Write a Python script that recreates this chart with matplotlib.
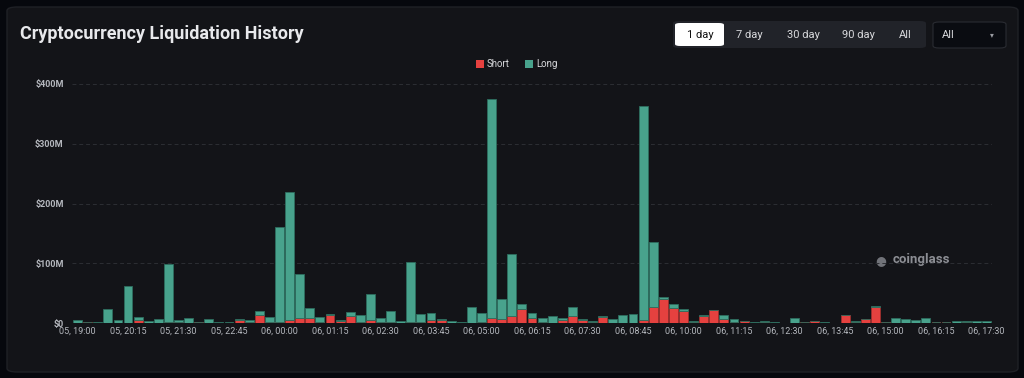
import matplotlib
matplotlib.use("Agg")
import matplotlib.pyplot as plt
from matplotlib.patches import FancyBboxPatch, Rectangle

# Liquidations per 15 minutes, in $M
short_vals = [0, 1, 0, 0, 0, 0, 4.5, 0, 0, 1.5, 1, 0, 1.5, 0, 0, 0, 5, 1, 13, 1.5,
              1.5, 5, 8, 8, 2, 13, 3, 12, 1, 4.5, 1, 1, 0.5, 1.5, 1, 5.6, 4.5, 0, 0.5, 0.5,
              2, 8.4, 6, 12, 23, 8.4, 2, 0, 4.5, 11, 5, 2, 10, 0, 0, 0, 5, 26, 40, 25,
              20, 2, 11, 21, 6.7, 2, 3.4, 0, 1.7, 0.5, 0.5, 0, 1.7, 3.4, 0.5, 0.5, 14, 2, 6.7, 26,
              1, 0, 0, 0, 0, 1.7, 1, 0.5, 1, 0.5, 0.5]
long_vals = [4.5, 0, 2, 24, 4.5, 62, 5, 4, 6.7, 96.5, 4, 8.4, 0.5, 7, 2, 2, 1.7, 3.5, 6.7, 8.5,
             159.5, 215, 74, 17, 8, 1.6, 1.5, 6, 13, 43.5, 7, 18.7, 2.5, 100.5, 14, 11.8, 2.2, 4, 1.2, 25.5,
             14, 366.6, 34, 103, 8, 9, 6.4, 12, 3.5, 15, 1, 1.4, 2.4, 6, 14, 15.7, 359, 109, 4, 6,
             3, 1, 2.5, 0, 7.3, 4.7, 0, 1.7, 1.3, 0.5, 0, 8.4, 0, 0, 0.5, 0, 0, 1, 0, 2,
             1, 8.4, 6.7, 5, 9, 0, 0, 2.5, 2, 2.9, 2.9]
x_labels = ["05, 19:00", "05, 20:15", "05, 21:30", "05, 22:45", "06, 00:00",
            "06, 01:15", "06, 02:30", "06, 03:45", "06, 05:00", "06, 06:15",
            "06, 07:30", "06, 08:45", "06, 10:00", "06, 11:15", "06, 12:30",
            "06, 13:45", "06, 15:00", "06, 16:15", "06, 17:30"]
y_ticks = [0, 100, 200, 300, 400]
y_labels = ["$0", "$100M", "$200M", "$300M", "$400M"]
buttons = ["1 day", "7 day", "30 day", "90 day", "All"]

green = "#48a28c"
red = "#e5413f"
txt = "#b4b7bd"

plt.rcParams['font.family'] = ['Roboto', 'DejaVu Sans']

fig = plt.figure(figsize=(10.24, 3.78), dpi=100)
fig.patch.set_facecolor("#06080d")

W, H = 1024, 378
def fx(px): return px / W
def fy(py): return 1 - py / H

# card background
card = FancyBboxPatch((fx(7), fy(372)), fx(1011), 365 / H,
                      boxstyle="round,pad=0,rounding_size=0.01",
                      transform=fig.transFigure, facecolor="#131418",
                      edgecolor="#1f2126", linewidth=1, zorder=-10)
fig.patches.append(card)

fig.text(fx(20), fy(34), "Cryptocurrency Liquidation History", color="#e8e9ec",
         fontsize=13, fontweight="bold", va="center", ha="left")

# range buttons
grp = FancyBboxPatch((fx(673), fy(48)), fx(253), 27 / H,
                     boxstyle="round,pad=0,rounding_size=0.006",
                     transform=fig.transFigure, facecolor="#212329",
                     edgecolor="none", zorder=1)
fig.patches.append(grp)
sel = FancyBboxPatch((fx(675), fy(46)), fx(49), 23 / H,
                     boxstyle="round,pad=0,rounding_size=0.005",
                     transform=fig.transFigure, facecolor="white",
                     edgecolor="none", zorder=2)
fig.patches.append(sel)
btn_x = [700, 749, 803, 858, 905]
for bx, b in zip(btn_x, buttons):
    fig.text(fx(bx), fy(35), b, color="#111111" if b == "1 day" else "#d8d9dc",
             fontsize=8, ha="center", va="center", zorder=3)
dd = FancyBboxPatch((fx(933), fy(48)), fx(73), 26 / H,
                    boxstyle="round,pad=0,rounding_size=0.006",
                    transform=fig.transFigure, facecolor="#0a0c11",
                    edgecolor="#2a2c32", linewidth=0.8, zorder=1)
fig.patches.append(dd)
fig.text(fx(942), fy(35), "All", color="#d8d9dc", fontsize=8, ha="left", va="center")
fig.text(fx(992), fy(35), "▾", color="#9a9ca2", fontsize=5.5, ha="center", va="center")

# legend
fig.patches.append(Rectangle((fx(476), fy(68)), fx(8), 8 / H, transform=fig.transFigure,
                             facecolor=red, edgecolor="none"))
fig.text(fx(487), fy(64), "Short", color="#d8d9dc", fontsize=7, va="center")
fig.patches.append(Rectangle((fx(525), fy(68)), fx(8), 8 / H, transform=fig.transFigure,
                             facecolor=green, edgecolor="none"))
fig.text(fx(536), fy(64), "Long", color="#d8d9dc", fontsize=7, va="center")

# chart
ax = fig.add_axes([fx(72), fy(323), fx(920), (323 - 84) / H])
ax.set_zorder(2)
ax.set_facecolor("none")
x = list(range(len(short_vals)))
ax.bar(x, short_vals, width=0.88, color=red, edgecolor="#9e2f2e", linewidth=0.6, zorder=3)
ax.bar(x, long_vals, bottom=short_vals, width=0.88, color=green,
       edgecolor="#2e6d5e", linewidth=0.6, zorder=3)

ax.set_xlim(-0.55, len(x) - 0.45)
ax.set_ylim(0, 400)
ax.set_yticks(y_ticks)
ax.set_yticklabels(y_labels)
ax.set_xticks(x[::5])
ax.set_xticklabels(x_labels)
ax.tick_params(axis="both", length=0, colors=txt, labelsize=6.5)
ax.tick_params(axis="y", pad=6)
ax.tick_params(axis="x", pad=3)
for lab in ax.get_yticklabels():
    lab.set_fontweight("bold")
ax.grid(axis="y", color="#2c2e33", linestyle=(0, (4, 3)), linewidth=0.7, zorder=0)
for s in ax.spines.values():
    s.set_visible(False)

# watermark
fig.text(fx(893), fy(260), "coinglass", color="#9a9ca2", fontsize=9.5,
         fontweight="bold", va="center", ha="left", alpha=0.9, zorder=1)
fig.text(fx(881), fy(261), "●", color="#8a8c92", fontsize=9, va="center", ha="center",
         alpha=0.8, zorder=1)

fig.savefig("out.png", dpi=100, facecolor=fig.get_facecolor())
